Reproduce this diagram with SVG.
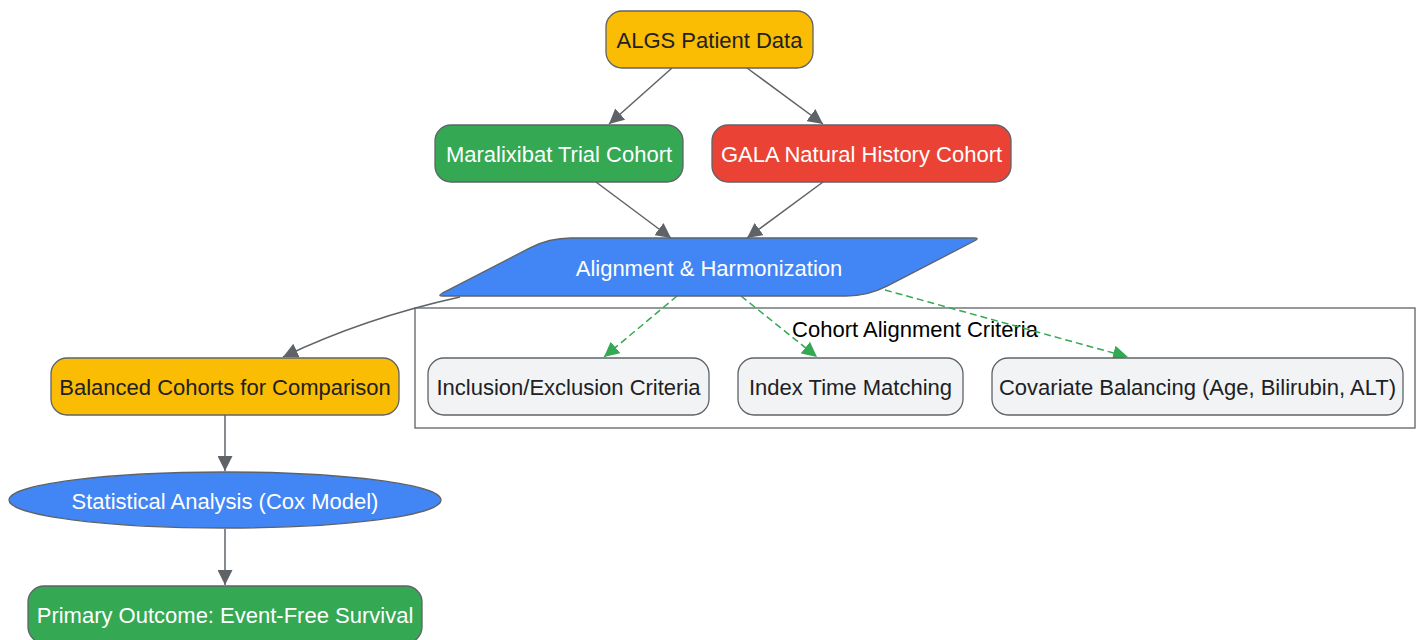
<svg xmlns="http://www.w3.org/2000/svg" width="1421" height="640" viewBox="0 0 1421 640">
<defs>
<style>
text{font-family:"Liberation Sans",Arial,sans-serif;font-size:22px;text-anchor:middle;dominant-baseline:central}
.n{stroke:#5f6368;stroke-width:1.3}
.y{fill:#FBBC04}.g{fill:#34A853}.r{fill:#EA4335}.b{fill:#4285F4}.l{fill:#F1F3F4}
.dk{fill:#202124}.wt{fill:#ffffff}
.e{fill:none;stroke:#5f6368;stroke-width:1.5;marker-end:url(#ag)}
.d{fill:none;stroke:#34A853;stroke-width:1.5;stroke-dasharray:7 4;marker-end:url(#gr)}
.cl{fill:none;stroke:#5f6368;stroke-width:1.3}
</style>
<marker id="ag" viewBox="0 0 10 10" refX="10" refY="5" markerUnits="userSpaceOnUse" markerWidth="15" markerHeight="15" orient="auto"><path d="M0,0 L10,5 L0,10 z" fill="#5f6368"/></marker>
<marker id="gr" viewBox="0 0 10 10" refX="10" refY="5" markerUnits="userSpaceOnUse" markerWidth="15" markerHeight="15" orient="auto"><path d="M0,0 L10,5 L0,10 z" fill="#34A853"/></marker>
</defs>
<rect width="1421" height="640" fill="#ffffff"/>
<g id="cluster">
<rect class="cl" x="415" y="308" width="1000" height="120"/>
<text x="915" y="329" fill="#000">Cohort Alignment Criteria</text>
</g>
<g id="edges">
<path class="e" d="M672,68 L609,124"/>
<path class="e" d="M747,68 L823,124"/>
<path class="e" d="M596,182 L671,238"/>
<path class="e" d="M823,182 L747,238"/>
<path class="e" d="M460,297 C410,308 350,325 283,357"/>
<path class="e" d="M225,415 L225,471"/>
<path class="e" d="M225,529 L225,585"/>
<path class="d" d="M677,296 L604,357"/>
<path class="d" d="M741,296 L817,357"/>
<path class="d" d="M885,290 L1128,357"/>
</g>
<g id="algs"><rect class="n y" x="606" y="11" width="207" height="57" rx="16"/><text class="dk" x="709.5" y="40">ALGS Patient Data</text></g>
<g id="maralixibat"><rect class="n g" x="435" y="125" width="248" height="57" rx="16"/><text class="wt" x="559" y="154">Maralixibat Trial Cohort</text></g>
<g id="gala"><rect class="n r" x="712" y="125" width="299" height="57" rx="16"/><text class="wt" x="861.5" y="154">GALA Natural History Cohort</text></g>
<g id="alignment"><path class="n b" d="M442.3,293.2 L529.5,248.1 Q549,238 571,238 L974,238 Q980,238 974.7,240.8 L887.5,285.9 Q868,296 846,296 L443,296 Q437,296 442.3,293.2 Z"/><text class="wt" x="709" y="268">Alignment &amp; Harmonization</text></g>
<g id="inclusion"><rect class="n l" x="428" y="358" width="281" height="57" rx="16"/><text class="dk" x="568.5" y="387">Inclusion/Exclusion Criteria</text></g>
<g id="indextime"><rect class="n l" x="738" y="358" width="225" height="57" rx="16"/><text class="dk" x="850.5" y="387">Index Time Matching</text></g>
<g id="covariate"><rect class="n l" x="992" y="358" width="411" height="57" rx="16"/><text class="dk" x="1197.5" y="387">Covariate Balancing (Age, Bilirubin, ALT)</text></g>
<g id="balanced"><rect class="n y" x="51" y="358" width="348" height="57" rx="16"/><text class="dk" x="225" y="387">Balanced Cohorts for Comparison</text></g>
<g id="statistical"><ellipse class="n b" cx="225" cy="500" rx="216" ry="28"/><text class="wt" x="225" y="501">Statistical Analysis (Cox Model)</text></g>
<g id="primary"><rect class="n g" x="28" y="586" width="394" height="57" rx="16"/><text class="wt" x="225" y="615">Primary Outcome: Event-Free Survival</text></g>
</svg>
